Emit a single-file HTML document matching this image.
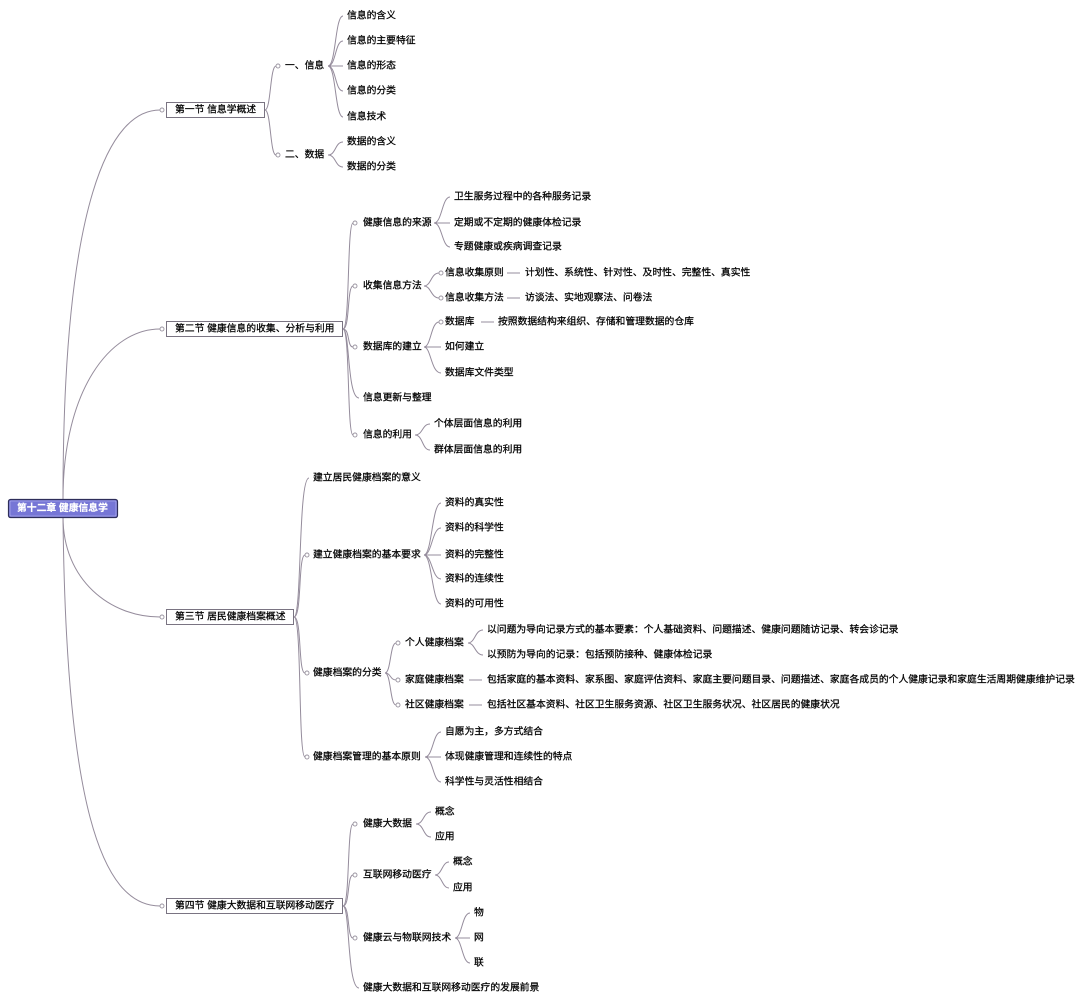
<!DOCTYPE html>
<html><head><meta charset="utf-8"><style>
html,body{margin:0;padding:0;background:#fff;}
svg{display:block;}
text{font-family:"Liberation Sans","Noto Sans CJK SC",sans-serif;font-size:9.8px;fill:#000;stroke:#000;stroke-width:0.25;dominant-baseline:central;}
.l{fill:none;stroke:#958c9c;stroke-width:1;}
.c{fill:#fff;stroke:#9a94a0;stroke-width:0.9;}
.b{fill:#fff;stroke:#7a7482;stroke-width:1;}
</style></head><body>
<svg width="1080" height="1003" viewBox="0 0 1080 1003" xmlns="http://www.w3.org/2000/svg">
<!-- root curves -->
<path class="l" d="M63,499 C63,200 110,110 160,110"/>
<path class="l" d="M63,499 C63,390 110,329 160,329"/>
<path class="l" d="M63,517 C63,580 110,617 160,617"/>
<path class="l" d="M63,517 C66,800 100,906 160,906"/>

<!-- root -->
<rect x="8.5" y="499.5" width="109" height="18" rx="2" fill="#7676d6" stroke="#2e2e5a" stroke-width="1.2"/>
<rect x="10" y="501" width="106" height="15" rx="1" fill="none" stroke="#a8a8ec" stroke-width="0.8"/>
<text x="17" y="508.5" style="fill:#fff;stroke:#fff;stroke-width:0.2;font-weight:bold">第十二章 健康信息学</text>

<!-- section boxes -->
<circle class="c" cx="162" cy="110" r="2"/>
<rect class="b" x="166.5" y="102.5" width="98" height="15"/>
<text x="175" y="110">第一节  信息学概述</text>

<circle class="c" cx="162" cy="329" r="2"/>
<rect class="b" x="166.5" y="321.5" width="176" height="15"/>
<text x="175" y="329">第二节  健康信息的收集、分析与利用</text>

<circle class="c" cx="162" cy="617" r="2"/>
<rect class="b" x="166.5" y="609.5" width="127" height="15"/>
<text x="175" y="617">第三节  居民健康档案概述</text>

<circle class="c" cx="162" cy="906" r="2"/>
<rect class="b" x="166.5" y="898.5" width="176" height="15"/>
<text x="175" y="906">第四节  健康大数据和互联网移动医疗</text>

<!-- ===== Section 1 ===== -->
<path class="l" d="M265,110 C271,110 270,66 276,66"/>
<path class="l" d="M265,110 C271,110 270,155 276,155"/>
<circle class="c" cx="278" cy="66" r="2"/>
<circle class="c" cx="278" cy="155" r="2"/>
<text x="285" y="66">一、信息</text>
<text x="285" y="155">二、数据</text>
<path class="l" d="M328,66 C336,66 335,16 343,16"/>
<path class="l" d="M328,66 C336,66 335,41 343,41"/>
<path class="l" d="M328,66 L343,66"/>
<path class="l" d="M328,66 C336,66 335,91 343,91"/>
<path class="l" d="M328,66 C336,66 335,117 343,117"/>
<text x="347" y="16">信息的含义</text>
<text x="347" y="41">信息的主要特征</text>
<text x="347" y="66">信息的形态</text>
<text x="347" y="91">信息的分类</text>
<text x="347" y="117">信息技术</text>
<path class="l" d="M328,155 C336,155 335,142 343,142"/>
<path class="l" d="M328,155 C336,155 335,167 343,167"/>
<text x="347" y="142">数据的含义</text>
<text x="347" y="167">数据的分类</text>

<!-- ===== Section 2 ===== -->
<path class="l" d="M343,329 C350,329 347,223 353,223"/>
<path class="l" d="M343,329 C350,329 347,286 353,286"/>
<path class="l" d="M343,329 C350,329 347,347 353,347"/>
<path class="l" d="M343,329 C350,329 347,398 359,398"/>
<path class="l" d="M343,329 C350,329 347,435 353,435"/>
<circle class="c" cx="355" cy="223" r="2"/>
<circle class="c" cx="355" cy="286" r="2"/>
<circle class="c" cx="355" cy="347" r="2"/>
<circle class="c" cx="355" cy="435" r="2"/>
<text x="363" y="223">健康信息的来源</text>
<text x="363" y="286">收集信息方法</text>
<text x="363" y="347">数据库的建立</text>
<text x="363" y="398">信息更新与整理</text>
<text x="363" y="435">信息的利用</text>

<path class="l" d="M434,223 C442,223 442,197 450,197"/>
<path class="l" d="M434,223 L450,223"/>
<path class="l" d="M434,223 C442,223 442,247 450,247"/>
<text x="454" y="197">卫生服务过程中的各种服务记录</text>
<text x="454" y="223">定期或不定期的健康体检记录</text>
<text x="454" y="247">专题健康或疾病调查记录</text>

<path class="l" d="M424,286 C431,286 431,273 439,273"/>
<path class="l" d="M424,286 C431,286 431,298 439,298"/>
<circle class="c" cx="441" cy="273" r="2"/>
<circle class="c" cx="441" cy="298" r="2"/>
<text x="445" y="273">信息收集原则</text>
<text x="445" y="298">信息收集方法</text>
<path class="l" d="M507,273 L520,273"/>
<path class="l" d="M507,298 L520,298"/>
<text x="525" y="273">计划性、系统性、针对性、及时性、完整性、真实性</text>
<text x="525" y="298">访谈法、实地观察法、问卷法</text>

<path class="l" d="M424,347 C431,347 431,322 439,322"/>
<path class="l" d="M424,347 L441,347"/>
<path class="l" d="M424,347 C431,347 431,373 441,373"/>
<circle class="c" cx="441" cy="322" r="2"/>
<text x="445" y="322">数据库</text>
<path class="l" d="M481,322 L494,322"/>
<text x="498" y="322">按照数据结构来组织、存储和管理数据的仓库</text>
<text x="445" y="347">如何建立</text>
<text x="445" y="373">数据库文件类型</text>

<path class="l" d="M415,435 C423,435 422,424 430,424"/>
<path class="l" d="M415,435 C423,435 422,450 430,450"/>
<text x="434" y="424">个体层面信息的利用</text>
<text x="434" y="450">群体层面信息的利用</text>

<!-- ===== Section 3 ===== -->
<path class="l" d="M294,617 C302,617 298,478 309,478"/>
<path class="l" d="M294,617 C302,617 298,555 305,555"/>
<path class="l" d="M294,617 C302,617 298,673 305,673"/>
<path class="l" d="M294,617 C302,617 298,757 305,757"/>
<circle class="c" cx="307" cy="555" r="2"/>
<circle class="c" cx="307" cy="673" r="2"/>
<circle class="c" cx="307" cy="757" r="2"/>
<text x="313" y="478">建立居民健康档案的意义</text>
<text x="313" y="555">建立健康档案的基本要求</text>
<text x="313" y="673">健康档案的分类</text>
<text x="313" y="757">健康档案管理的基本原则</text>

<path class="l" d="M424,555 C432,555 432,503 441,503"/>
<path class="l" d="M424,555 C432,555 432,528 441,528"/>
<path class="l" d="M424,555 L441,555"/>
<path class="l" d="M424,555 C432,555 432,579 441,579"/>
<path class="l" d="M424,555 C432,555 432,604 441,604"/>
<text x="445" y="503">资料的真实性</text>
<text x="445" y="528">资料的科学性</text>
<text x="445" y="555">资料的完整性</text>
<text x="445" y="579">资料的连续性</text>
<text x="445" y="604">资料的可用性</text>

<path class="l" d="M385,673 C391,673 390,643 396,643"/>
<path class="l" d="M385,673 C391,673 390,680 396,680"/>
<path class="l" d="M385,673 C391,673 390,705 396,705"/>
<circle class="c" cx="398" cy="643" r="2"/>
<circle class="c" cx="398" cy="680" r="2"/>
<circle class="c" cx="398" cy="705" r="2"/>
<text x="405" y="643">个人健康档案</text>
<text x="405" y="680">家庭健康档案</text>
<text x="405" y="705">社区健康档案</text>
<path class="l" d="M468,643 C475,643 475,630 483,630"/>
<path class="l" d="M468,643 C475,643 475,655 483,655"/>
<text x="487" y="630">以问题为导向记录方式的基本要素：个人基础资料、问题描述、健康问题随访记录、转会诊记录</text>
<text x="487" y="655">以预防为导向的记录：包括预防接种、健康体检记录</text>
<path class="l" d="M469,680 L482,680"/>
<path class="l" d="M469,705 L482,705"/>
<text x="487" y="680">包括家庭的基本资料、家系图、家庭评估资料、家庭主要问题目录、问题描述、家庭各成员的个人健康记录和家庭生活周期健康维护记录</text>
<text x="487" y="705">包括社区基本资料、社区卫生服务资源、社区卫生服务状况、社区居民的健康状况</text>

<path class="l" d="M425,757 C433,757 433,732 441,732"/>
<path class="l" d="M425,757 L441,757"/>
<path class="l" d="M425,757 C433,757 433,782 441,782"/>
<text x="445" y="732">自愿为主，多方式结合</text>
<text x="445" y="757">体现健康管理和连续性的特点</text>
<text x="445" y="782">科学性与灵活性相结合</text>

<!-- ===== Section 4 ===== -->
<path class="l" d="M343,906 C350,906 347,824 353,824"/>
<path class="l" d="M343,906 C350,906 347,875 353,875"/>
<path class="l" d="M343,906 C350,906 347,938 353,938"/>
<path class="l" d="M343,906 C350,906 347,988 359,988"/>
<circle class="c" cx="355" cy="824" r="2"/>
<circle class="c" cx="355" cy="875" r="2"/>
<circle class="c" cx="355" cy="938" r="2"/>
<text x="363" y="824">健康大数据</text>
<text x="363" y="875">互联网移动医疗</text>
<text x="363" y="938">健康云与物联网技术</text>
<text x="363" y="988">健康大数据和互联网移动医疗的发展前景</text>

<path class="l" d="M416,824 C424,824 423,812 431,812"/>
<path class="l" d="M416,824 C424,824 423,837 431,837"/>
<text x="435" y="812">概念</text>
<text x="435" y="837">应用</text>

<path class="l" d="M435,875 C442,875 442,862 449,862"/>
<path class="l" d="M435,875 C442,875 442,888 449,888"/>
<text x="453" y="862">概念</text>
<text x="453" y="888">应用</text>

<path class="l" d="M455,938 C462,938 462,913 470,913"/>
<path class="l" d="M455,938 L470,938"/>
<path class="l" d="M455,938 C462,938 462,963 470,963"/>
<text x="474" y="913">物</text>
<text x="474" y="938">网</text>
<text x="474" y="963">联</text>
</svg>
</body></html>
